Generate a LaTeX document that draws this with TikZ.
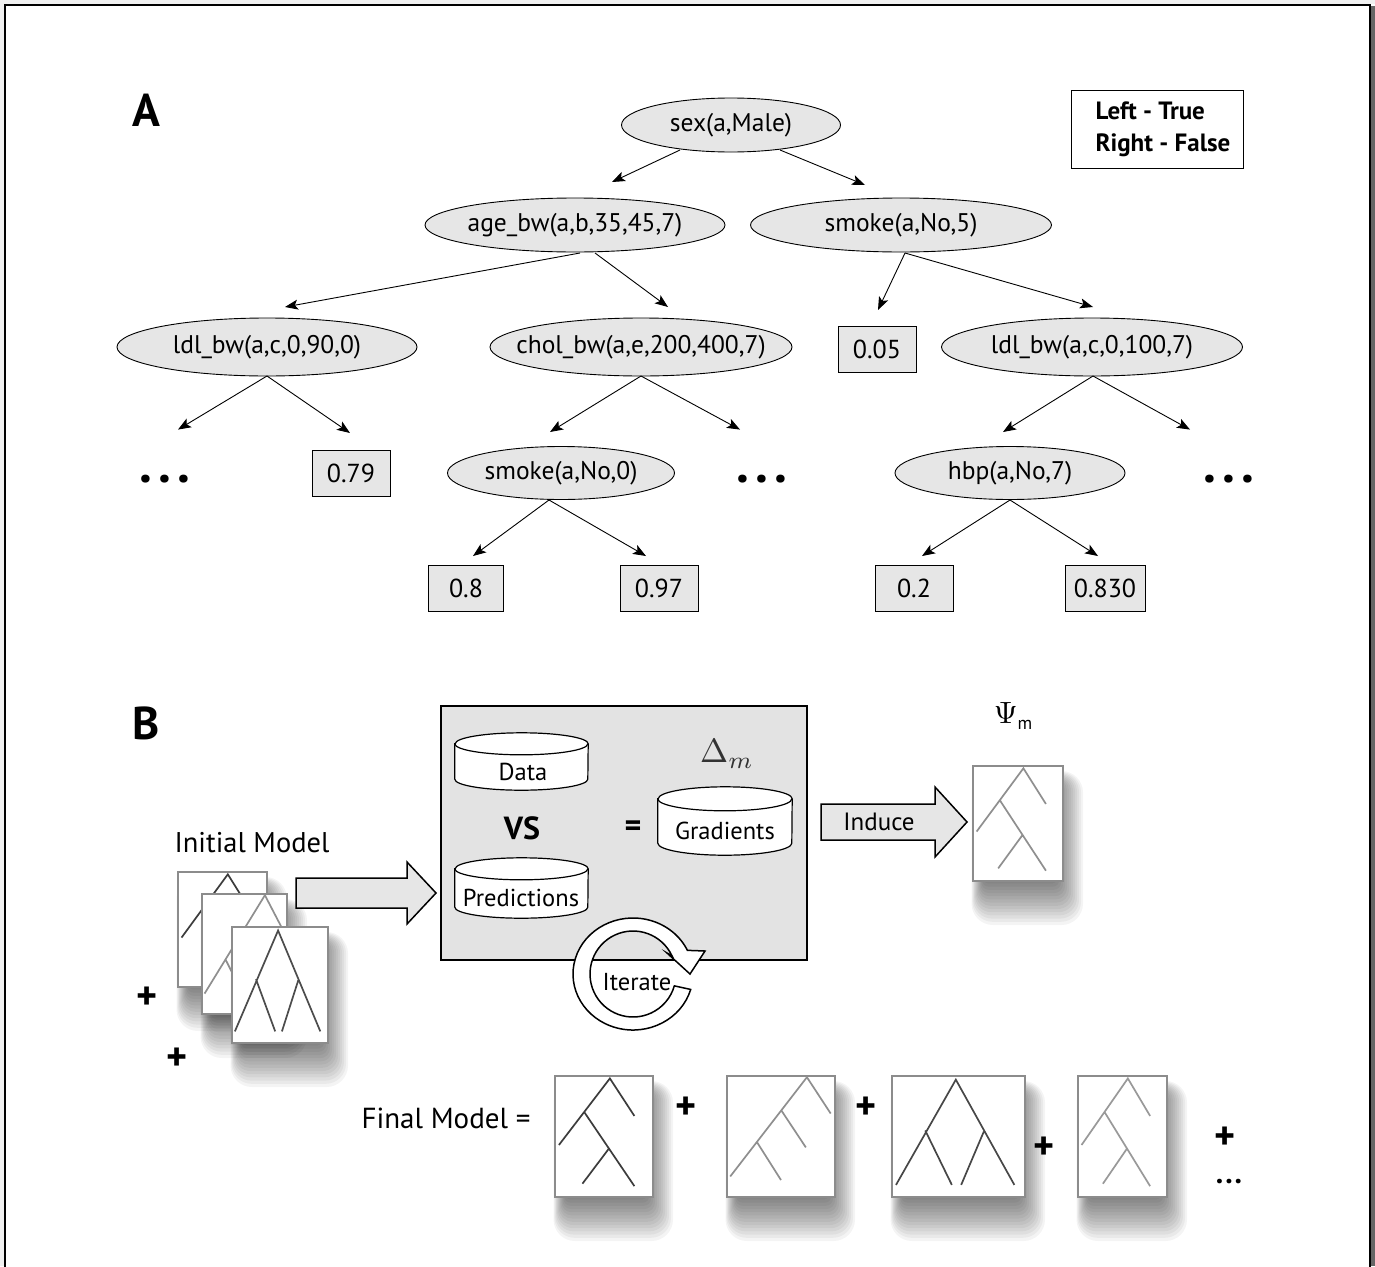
\documentclass[tikz,border=0pt]{standalone}
\usepackage{fontspec}
\setmainfont{PT Sans}
\usetikzlibrary{shapes.geometric,arrows.meta,calc}
\definecolor{lg}{HTML}{E6E6E6}
\definecolor{bigfill}{HTML}{E3E3E3}
\definecolor{boxline}{HTML}{8C8C8C}
\definecolor{dk}{HTML}{3C3C3C}
\definecolor{lt}{HTML}{8F8F8F}
\newcommand\zz[1]{\makebox[0pt]{#1}}
\newcommand\shad[4]{%
  \foreach \k in {0,...,15}{%
    \fill[black,opacity=0.045,rounded corners={2pt+\k*1.3pt}] ({#1+12-\k*0.9},{#2+20-\k*1.0}) rectangle ({#3-10+\k*2.0},{#4-4+\k*3.2});}}
% name x1 y1 x2 y2 colour type
\newcommand\tbox[7]{%
  \shad{#2}{#3}{#4}{#5}%
  \pgfmathsetmacro\tw{#4-#2}\pgfmathsetmacro\th{#5-#3}%
  \node[tbx,minimum width=\tw pt,minimum height=\th pt] (#1) at ({(#2+#4)/2},{(#3+#5)/2}) {};
  \begin{scope}[shift={(#2,#3)},x=\tw pt,y=-\th pt]
    \csname tree#7\endcsname{#6}
  \end{scope}}
\newcommand\treeA[1]{\draw[tline,#1] (0.04,0.57) -- (0.56,0.02) -- (0.81,0.33) (0.30,0.30) -- (0.81,0.91) (0.55,0.60) -- (0.28,0.89);}
\newcommand\treeB[1]{\draw[tline,#1] (0.03,0.83) -- (0.74,0.01) -- (0.96,0.31) (0.50,0.28) -- (0.73,0.59) (0.28,0.55) -- (0.50,0.86);}
\newcommand\treeC[1]{\draw[tline,#1] (0.03,0.90) -- (0.48,0.03) -- (0.92,0.90) (0.25,0.45) -- (0.45,0.90) (0.69,0.46) -- (0.52,0.90);}
\begin{document}
\begin{tikzpicture}[x=1pt,y=-1pt,
  ell/.style={ellipse,draw,fill=lg,line width=0.9pt,inner sep=0pt,font=\fontsize{25.5}{29}\selectfont},
  val/.style={rectangle,draw,fill=lg,line width=0.9pt,minimum width=78pt,minimum height=46pt,inner sep=0pt,font=\fontsize{26}{30}\selectfont},
  arr/.style={-{Stealth[length=13pt,width=10pt,inset=3pt]},line width=0.9pt},
  dotsn/.style={anchor=base,font=\bfseries\fontsize{52}{52}\selectfont},
  lab/.style={font=\fontsize{24.5}{28}\selectfont},
  plus/.style={font=\bfseries\fontsize{40}{40}\selectfont},
  tbx/.style={rectangle,draw=boxline,fill=white,line width=1.4pt,inner sep=0pt},
  tline/.style={line width=1.7pt},
  cylline/.style={draw,fill=white,line width=1.2pt},
  blockarrow/.style={draw,line width=1.5pt,line join=miter}]
\useasboundingbox (0,0) rectangle (1375,1266);
\fill[white] (0,0) rectangle (1375,1266);
% outer frame
\fill[black!6] (0,0) rectangle (1375,4);
\fill[black!6] (0,0) rectangle (4,1266);
\fill[black!60] (1371,6) rectangle (1375,1266);
\draw[line width=1.2pt] (5,1270) -- (5,5) -- (1370,5) -- (1370,1270);

% ================= Panel A =================
\node[font=\bfseries\fontsize{46}{46}\selectfont] (labA) at (146,110) {A};
\node[draw,line width=0.9pt,minimum width=172pt,minimum height=78pt,inner sep=0pt] (legend) at (1157,129) {};
\node[font=\bfseries\fontsize{25}{32}\selectfont,align=left,anchor=west] (legtext) at (1092,129) {Left - True\\Right - False};

\node[ell,minimum width=219pt,minimum height=54pt] (sex) at (731,125) {\zz{sex(a,Male)}};
\node[ell,minimum width=300pt,minimum height=54pt] (age) at (575,225) {\zz{age\_bw(a,b,35,45,7)}};
\node[ell,minimum width=301pt,minimum height=54pt] (smk5) at (901,225) {\zz{smoke(a,No,5)}};
\node[ell,minimum width=300pt,minimum height=58pt] (ldl1) at (267,347) {\zz{ldl\_bw(a,c,0,90,0)}};
\node[ell,minimum width=302pt,minimum height=58pt] (chol) at (641,347) {\zz{chol\_bw(a,e,200,400,7)}};
\node[val] (v005) at (877,349) {0.05};
\node[ell,minimum width=301pt,minimum height=58pt] (ldl2) at (1092,347) {\zz{ldl\_bw(a,c,0,100,7)}};
\node[dotsn] (dots1) at (165,482) {.\kern6pt.\kern6pt.};
\node[val] (v079) at (351,473) {0.79};
\node[ell,minimum width=227pt,minimum height=53pt] (smk0) at (561,473) {\zz{smoke(a,No,0)}};
\node[dotsn] (dots2) at (762,482) {.\kern6pt.\kern6pt.};
\node[ell,minimum width=230pt,minimum height=53pt] (hbp) at (1010,473) {\zz{hbp(a,No,7)}};
\node[dotsn] (dots3) at (1229,482) {.\kern6pt.\kern6pt.};
\node[val,minimum width=75pt] (v08) at (466,588) {0.8};
\node[val] (v097) at (659,588) {0.97};
\node[val] (v02) at (914,588) {0.2};
\node[val,minimum width=80pt] (v0830) at (1105,588) {0.830};

\draw[arr] ($(sex)+(-51,25)$) -- ($(age)+(37,-43)$);
\draw[arr] ($(sex)+(49,25)$) -- ($(smk5)+(-36,-40)$);
\draw[arr] ($(age)+(5,28)$) -- ($(ldl1)+(18,-40)$);
\draw[arr] ($(age)+(20,28)$) -- ($(chol)+(27,-40)$);
\draw[arr] ($(smk5)+(4,28)$) -- ($(v005)+(1,-39)$);
\draw[arr] ($(smk5)+(4,28)$) -- ($(ldl2)+(1,-40)$);
\draw[arr] ($(ldl1)+(0,29)$) -- ($(dots1)+(13,-49)$);
\draw[arr] ($(ldl1)+(0,29)$) -- ($(v079)+(-1,-40)$);
\draw[arr] ($(chol)+(0,29)$) -- ($(smk0)+(-11,-41)$);
\draw[arr] ($(chol)+(0,29)$) -- ($(dots2)+(-22,-49)$);
\draw[arr] ($(ldl2)+(1,29)$) -- ($(hbp)+(-7,-41)$);
\draw[arr] ($(ldl2)+(1,29)$) -- ($(dots3)+(-39,-49)$);
\draw[arr] ($(smk0)+(-12,27)$) -- ($(v08)+(7,-32)$);
\draw[arr] ($(smk0)+(-12,27)$) -- ($(v097)+(-13,-32)$);
\draw[arr] ($(hbp)+(0,27)$) -- ($(v02)+(8,-32)$);
\draw[arr] ($(hbp)+(0,27)$) -- ($(v0830)+(-7,-32)$);

% ================= Panel B =================
\node[font=\bfseries\fontsize{46}{46}\selectfont] (labB) at (146,723) {B};
\node[draw,line width=2pt,fill=bigfill,minimum width=366pt,minimum height=254pt,inner sep=0pt] (big) at (624,833) {};

% cylinders
\node[minimum width=133pt,minimum height=57pt,inner sep=0pt] (data) at (521.5,761.5) {};
\draw[cylline] ($(data.north west)+(0,11)$) -- ($(data.south west)+(0,-11)$) arc[start angle=180,end angle=0,x radius=66.5,y radius=11] -- ($(data.north east)+(0,11)$) arc[start angle=0,end angle=-180,x radius=66.5,y radius=11] -- cycle;
\draw[line width=1.2pt] ($(data.north west)+(0,11)$) arc[start angle=180,end angle=0,x radius=66.5,y radius=11];
\node[lab] (datat) at (523,772) {Data};

\node[minimum width=133pt,minimum height=60pt,inner sep=0pt] (pred) at (521.5,888) {};
\draw[cylline] ($(pred.north west)+(0,11)$) -- ($(pred.south west)+(0,-11)$) arc[start angle=180,end angle=0,x radius=66.5,y radius=11] -- ($(pred.north east)+(0,11)$) arc[start angle=0,end angle=-180,x radius=66.5,y radius=11] -- cycle;
\draw[line width=1.2pt] ($(pred.north west)+(0,11)$) arc[start angle=180,end angle=0,x radius=66.5,y radius=11];
\node[lab] (predt) at (521,898) {Predictions};

\node[minimum width=134pt,minimum height=68pt,inner sep=0pt] (grad) at (725,821) {};
\draw[cylline] ($(grad.north west)+(0,12)$) -- ($(grad.south west)+(0,-12)$) arc[start angle=180,end angle=0,x radius=67,y radius=12] -- ($(grad.north east)+(0,12)$) arc[start angle=0,end angle=-180,x radius=67,y radius=12] -- cycle;
\draw[line width=1.2pt] ($(grad.north west)+(0,12)$) arc[start angle=180,end angle=0,x radius=67,y radius=12];
\node[lab] (gradt) at (725,831) {Gradients};

\node[font=\bfseries\fontsize{32}{32}\selectfont] (vs) at (522,828) {VS};
\node[font=\bfseries\fontsize{32}{32}\selectfont] (eq) at (633,829) {=};
\node[text=black!80] (delta) at (727,754) {\resizebox{!}{23pt}{$\Delta_m$}};

% iterate circular arrow
\path[draw,fill=white,line width=1.5pt,line join=miter]
  ($(633,974)+(16:60 and 56)$) arc[start angle=16,end angle=335,x radius=60,y radius=56]
  -- (705,951) -- (690,974) -- (667,953) -- ($(633,974)+(335:43)$)
  arc[start angle=335,end angle=16,radius=43] -- cycle;
\node[lab] (iter) at (637,982) {Iterate};

% initial model
\node[font=\fontsize{28.5}{32}\selectfont] (initt) at (252,843) {Initial Model};
\tbox{ib1}{178}{872}{267}{987}{dk}{A}
\tbox{ib2}{202}{894}{287}{1014}{lt}{B}
\tbox{ib3}{232}{927}{328}{1043}{black!70}{C}
\node[plus] (p1) at (147,998) {+};
\node[plus] (p2) at (177,1059) {+};

% arrow into box
\path[blockarrow,fill=lg] (296,878) -- (407,878) -- (407,862) -- (436,893) -- (407,924) -- (407,908) -- (296,908) -- cycle;

% induce arrow
\path[blockarrow,fill=lg] (821,804) -- (935,804) -- (935,787) -- (967,822) -- (935,857) -- (935,840) -- (821,840) -- cycle;
\node[font=\fontsize{25}{28}\selectfont] (induce) at (879,822) {Induce};

% Psi_m
\node (psi) at (1013,716) {\resizebox{!}{21pt}{$\Psi$}\raisebox{-6pt}{\fontsize{18}{20}\selectfont m}};
\tbox{psibox}{973}{766}{1063}{881}{lt}{A}

% final model
\node[font=\fontsize{29}{32}\selectfont] (finalt) at (446,1118) {Final Model =};
\tbox{f1}{555}{1076}{653}{1197}{dk}{A}
\tbox{f2}{727}{1076}{835}{1197}{lt}{B}
\tbox{f3}{892}{1076}{1025}{1197}{black!72}{C}
\tbox{f4}{1078}{1076}{1167}{1197}{black!40}{A}
\node[plus] (p3) at (686,1108) {+};
\node[plus] (p4) at (866,1108) {+};
\node[plus] (p5) at (1044,1148) {+};
\node[plus] (p6) at (1225,1138) {+};
\node[anchor=base,font=\bfseries\fontsize{30}{30}\selectfont] (dots4) at (1229,1183) {.\kern2pt.\kern2pt.};
\end{tikzpicture}
\end{document}
